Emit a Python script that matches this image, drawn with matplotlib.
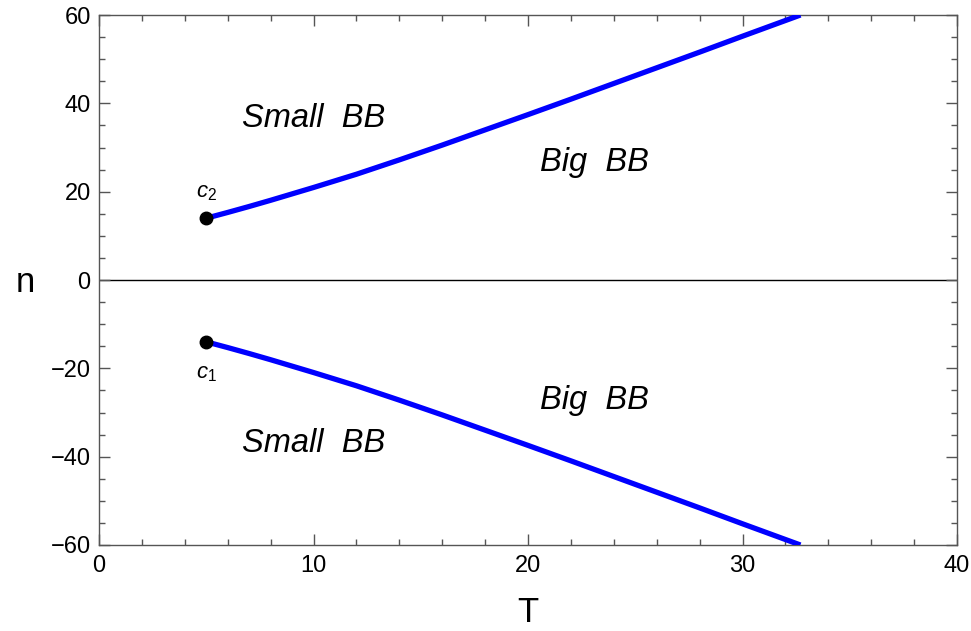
import matplotlib
matplotlib.use("Agg")
import matplotlib.pyplot as plt
import numpy as np

plt.rcParams['font.family'] = ['Liberation Sans', 'DejaVu Sans']
plt.rcParams['mathtext.fontset'] = 'custom'
plt.rcParams['mathtext.rm'] = 'Liberation Sans'
plt.rcParams['mathtext.it'] = 'Liberation Sans:italic'

# Data
T_vals = [5, 6, 7, 8, 9, 10, 11, 12, 14, 16, 18, 20, 22, 24, 26, 28, 30, 32.7]
n_upper = [14, 15.3, 16.65, 18.05, 19.5, 20.95, 22.45, 23.95, 27.2, 30.55, 34.0, 37.45, 40.95, 44.5, 48.05, 51.6, 55.2, 60]
n_lower = [-v for v in n_upper]
crit_T = [5, 5]
crit_n = [14, -14]
crit_labels = ['$c_2$', '$c_1$']
region_labels = ['Small  BB', 'Big  BB', 'Small  BB', 'Big  BB']
region_T = [10.0, 23.1, 10.0, 23.1]
region_n = [36.6, 26.5, -37.0, -27.3]

fig = plt.figure(figsize=(9.71, 6.31), dpi=100)
ax = fig.add_axes([0.102, 0.1363, 0.8836, 0.8399])

ax.axhline(0, color='black', lw=1.0, zorder=1)
ax.plot(T_vals, n_upper, color='#0000ff', lw=3.8, solid_capstyle='butt', zorder=3)
ax.plot(T_vals, n_lower, color='#0000ff', lw=3.8, solid_capstyle='butt', zorder=3)
ax.plot(crit_T, crit_n, 'o', color='black', ms=9, zorder=4)

ax.text(crit_T[0], crit_n[0] + 5.8, crit_labels[0], ha='center', va='center', fontsize=16)
ax.text(crit_T[1], crit_n[1] - 7.2, crit_labels[1], ha='center', va='center', fontsize=16)

for lab, t, n in zip(region_labels, region_T, region_n):
    ax.text(t, n, lab, ha='center', va='center', fontsize=23.5, style='italic')

ax.set_xlim(0, 40)
ax.set_ylim(-60, 60)
ax.set_xticks([0, 10, 20, 30, 40])
ax.set_yticks([-60, -40, -20, 0, 20, 40, 60])
ax.set_xticks(np.arange(0, 41, 2), minor=True)
ax.set_yticks(np.arange(-60, 61, 5), minor=True)
ax.set_yticklabels(['\u221260', '\u221240', '\u221220', '0', '20', '40', '60'])

ax.tick_params(which='both', direction='in', top=True, right=True, color='#555555', labelsize=17, width=1.0)
ax.tick_params(axis='x', which='major', length=8, pad=7)
ax.tick_params(axis='y', which='major', length=8, pad=6)
ax.tick_params(which='minor', length=4.5)
for s in ax.spines.values():
    s.set_color('#555555')
    s.set_linewidth(1.0)

fig.text(25 / 971, 1 - 283 / 631, 'n', fontsize=25, ha='center', va='center')
fig.text(528 / 971, 1 - 612 / 631, 'T', fontsize=25, ha='center', va='center')

fig.savefig('out.png', dpi=100)
